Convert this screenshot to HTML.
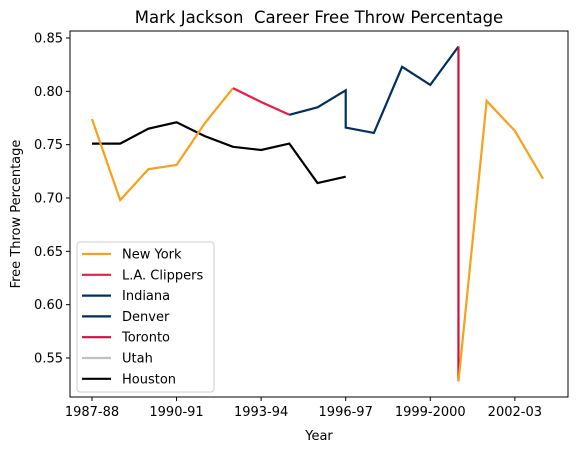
<!DOCTYPE html>
<html><head><meta charset="utf-8"><style>
body{margin:0;background:#fff;}
svg text{font-family:"DejaVu Sans","Liberation Sans",sans-serif;fill:#000;}
</style></head><body>
<svg width="579" height="453" xmlns="http://www.w3.org/2000/svg">
<g id="plot"></g>
<rect x="70" y="31" width="498" height="366" fill="none" stroke="#000" stroke-width="1"/>
<text x="319" y="23" font-size="16.5" text-anchor="middle" style="white-space:pre">Mark Jackson  Career Free Throw Percentage</text>
<text x="319" y="440" font-size="13" text-anchor="middle">Year</text>
<text x="20" y="214" font-size="13" text-anchor="middle" transform="rotate(-90 20 214)">Free Throw Percentage</text>
<g id="legend">
<rect x="77" y="242" width="137" height="150" rx="3" fill="#fff" fill-opacity="0.8" stroke="#ccc"/>
</g>
</svg>
<script>
const tickIdx=[0,3,6,9,12,15];
const tickLabels=["1987-88","1990-91","1993-94","1996-97","1999-2000","2002-03"];
const yTicks=[0.55,0.60,0.65,0.70,0.75,0.80,0.85];
const teamNames=["New York","L.A. Clippers","Indiana","Denver","Toronto","Utah","Houston"];
const teamColors=["#F9A01B","#EE1B48","#00305F","#002B5C","#CE1141","#BEC0C2","#000000"];
const nyX=[0,1,2,3,4,5,13,14,15,16];
const nyY=[0.774,0.698,0.727,0.731,0.770,0.803,0.528,0.791,0.763,0.718];
const lacX=[5,6,7];
const lacY=[0.803,0.790,0.778];
const indX=[7,8,9,9,10,11,12,13];
const indY=[0.778,0.785,0.801,0.766,0.761,0.823,0.806,0.842];
const torX=[13,13];
const torY=[0.842,0.528];
const houX=[0,1,2,3,4,5,6,7,8,9];
const houY=[0.751,0.751,0.765,0.771,0.758,0.748,0.745,0.751,0.714,0.720];
const NS="http://www.w3.org/2000/svg";
function sx(i){return 92+i*28.19;}
function sy(v){return 38+(0.85-v)*1066.7;}
const svg=document.querySelector('svg'),plot=document.getElementById('plot'),leg=document.getElementById('legend');
function mk(t,a,p){const e=document.createElementNS(NS,t);for(const k in a)e.setAttribute(k,a[k]);(p||svg).appendChild(e);return e;}
function line(xs,ys,c,name){const pts=xs.map((x,i)=>sx(x)+','+sy(ys[i])).join(' ');
 const e=mk('polyline',{points:pts,fill:'none',stroke:c,'stroke-width':2.2},plot);
 
 }
line(houX,houY,teamColors[6],'houston-line');
line(nyX.slice(0,6),nyY.slice(0,6),teamColors[0],'new-york-line-1');
line(lacX,lacY,teamColors[1],'la-clippers-line');
line(indX,indY,teamColors[2],'indiana-line');
line(torX,torY,teamColors[4],'toronto-line');
line(nyX.slice(6),nyY.slice(6),teamColors[0],'new-york-line-2');
tickIdx.forEach((ti,k)=>{const x=sx(ti);
 const t=mk('line',{x1:x,x2:x,y1:397,y2:401,stroke:'#000'});
 
 
 const l=mk('text',{x:x,y:416,'font-size':13,'text-anchor':'middle'});l.textContent=tickLabels[k];
 
 });
yTicks.forEach(v=>{const y=sy(v);
 const t=mk('line',{x1:66,x2:70,y1:y,y2:y,stroke:'#000'});
 
 
 const l=mk('text',{x:63,y:y+4.5,'font-size':13,'text-anchor':'end'});l.textContent=v.toFixed(2);
 
 });
teamNames.forEach((n,i)=>{const y=254+i*20.8;
 const s=mk('line',{x1:82,x2:111,y1:y,y2:y,stroke:teamColors[i],'stroke-width':2.2},leg);
 
 
 const t=mk('text',{x:122,y:y+4.5,'font-size':13},leg);t.textContent=n;
 
 });
</script>
</body></html>
